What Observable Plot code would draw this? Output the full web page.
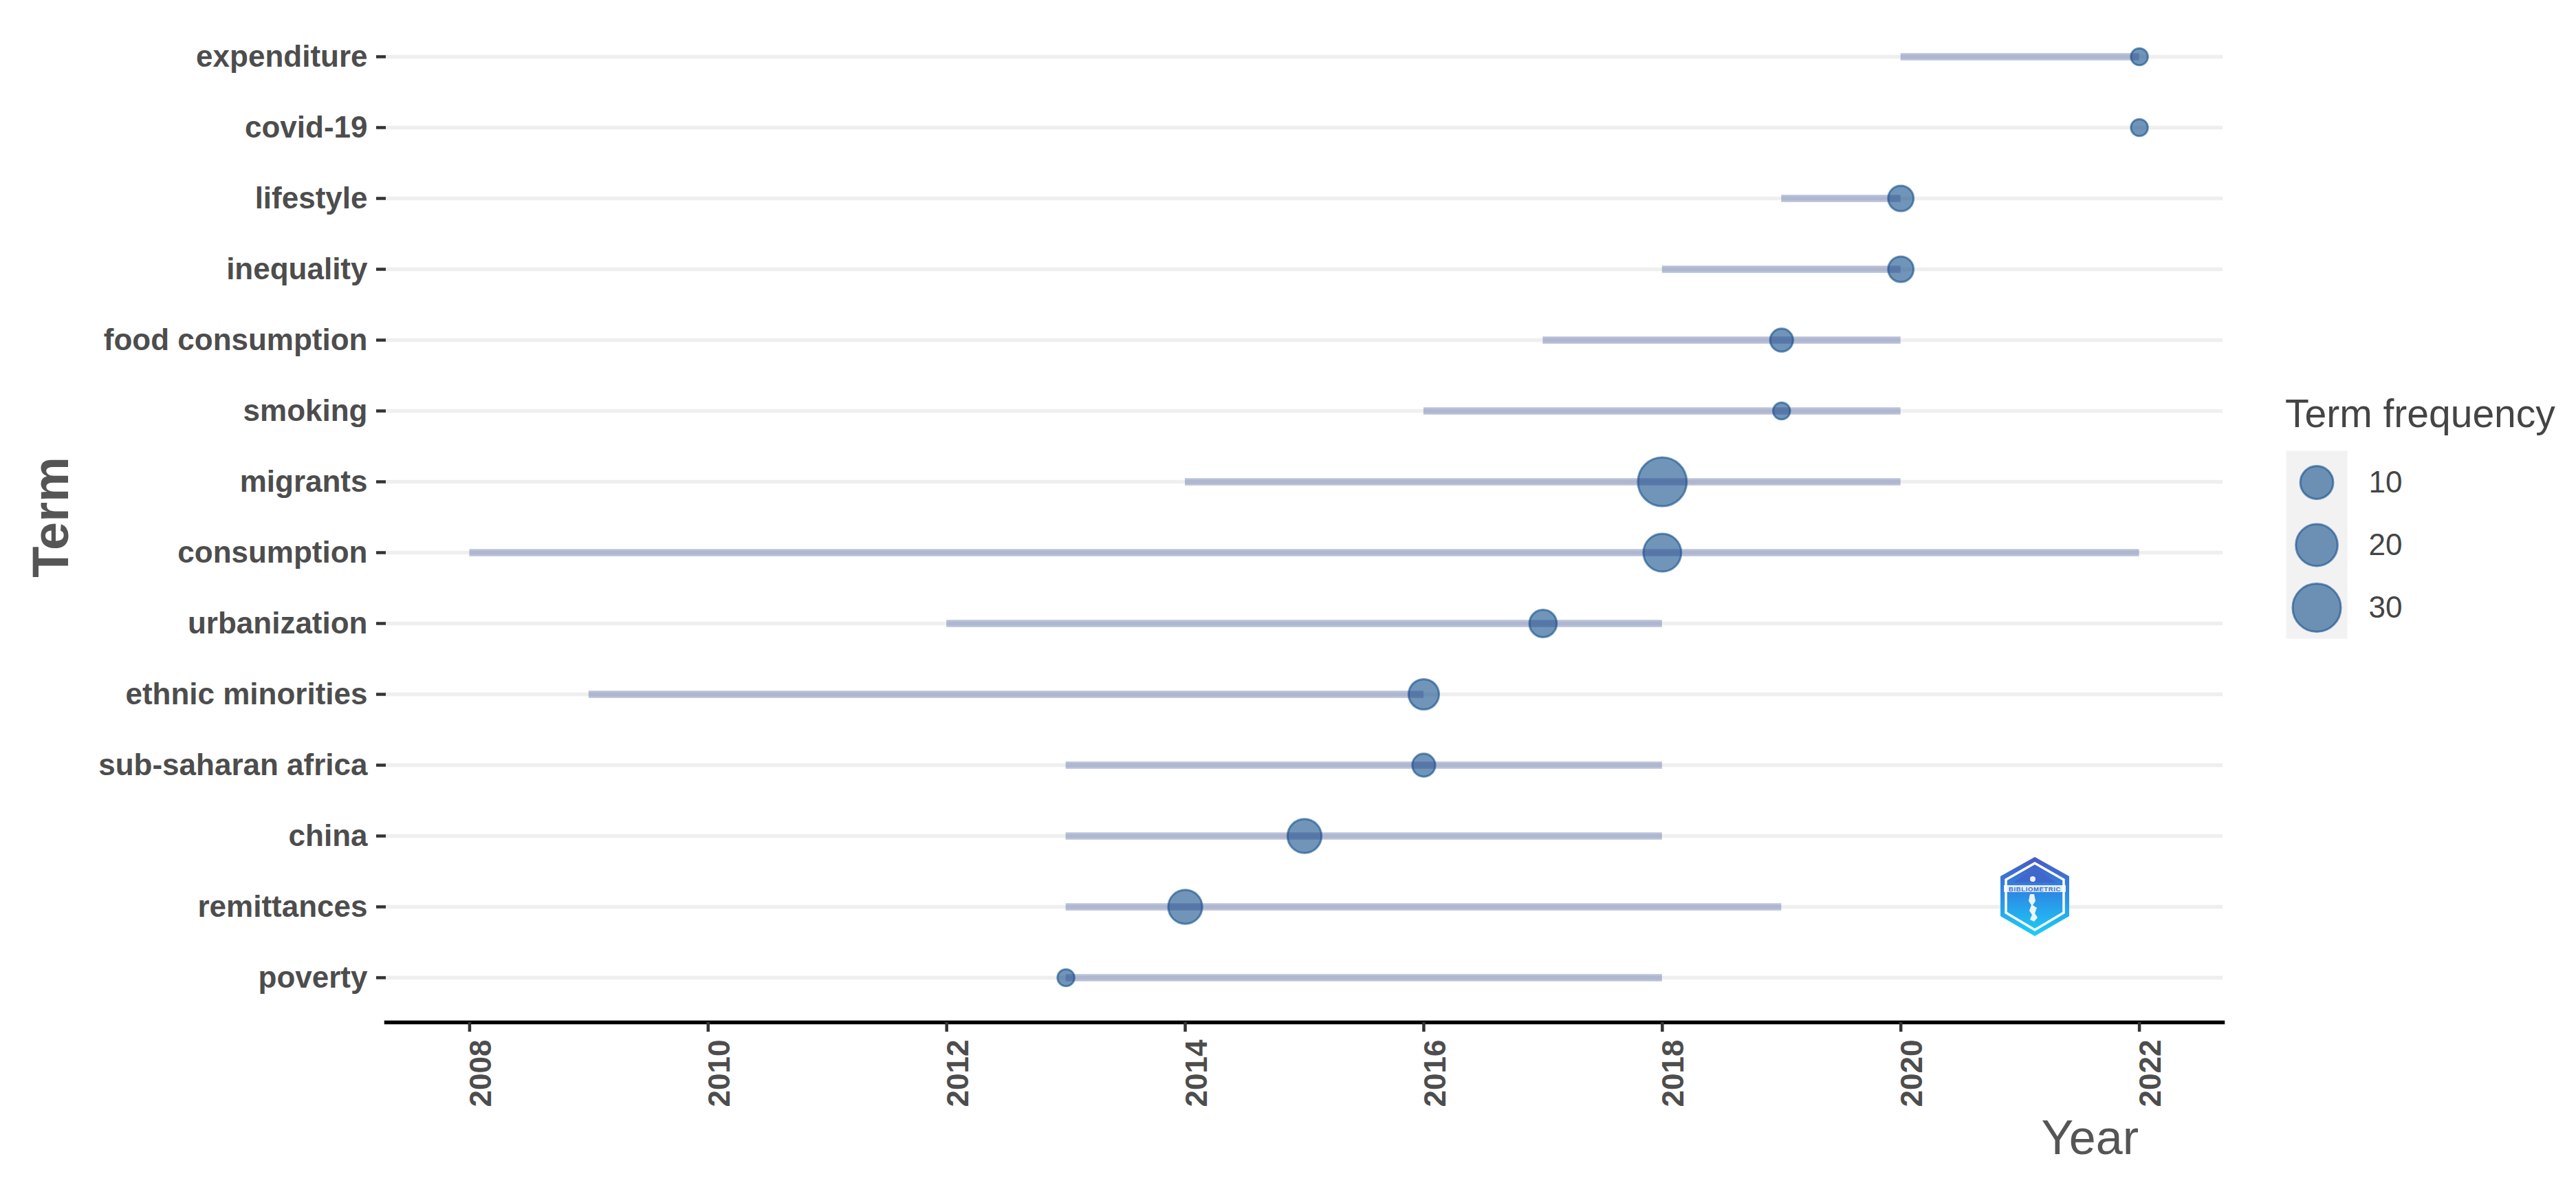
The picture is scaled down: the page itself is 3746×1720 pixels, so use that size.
<!DOCTYPE html>
<html>
<head>
<meta charset="utf-8">
<script src="https://cdn.jsdelivr.net/npm/d3@7"></script>
<script src="https://cdn.jsdelivr.net/npm/@observablehq/plot@0.6"></script>
<style>
  html, body { margin: 0; padding: 0; background: #ffffff; }
  body { width: 3746px; height: 1720px; position: relative; overflow: hidden;
         font-family: "Liberation Sans", Arial, Helvetica, sans-serif; }
  #chart { position: absolute; left: 0; top: 0; }
  #legend { position: absolute; left: 3324px; top: 655px; }
  #overlay { position: absolute; left: 0; top: 0; pointer-events: none; }
</style>
</head>
<body>
<div id="chart"></div>
<div id="legend"></div>
<svg id="overlay" width="3746" height="1720" xmlns="http://www.w3.org/2000/svg"
     font-family="Liberation Sans, Arial, Helvetica, sans-serif">
  <defs>
    <linearGradient id="logoGrad" x1="0" y1="0" x2="0" y2="1">
      <stop offset="0" stop-color="#4a58c4"/>
      <stop offset="0.5" stop-color="#2b8fe6"/>
      <stop offset="1" stop-color="#1cd0f8"/>
    </linearGradient>
  </defs>
  <!-- axis titles -->
  <text x="3110" y="1678" text-anchor="end" font-size="70" fill="#555555">Year</text>
  <text transform="translate(99,752) rotate(-90)" text-anchor="middle" font-size="74" font-weight="bold" fill="#555555">Term</text>
  <!-- legend title -->
  <text x="3323" y="621" font-size="57" fill="#444444">Term frequency</text>
  <!-- watermark logo -->
  <g>
    <polygon points="2959,1246 3009,1274 3009,1332 2959,1361 2909,1332 2909,1274" fill="url(#logoGrad)"/>
    <polygon points="2959,1255 3001,1279 3001,1327 2959,1352 2917,1327 2917,1279" fill="none" stroke="#ffffff" stroke-width="3.5"/>
    <polygon points="2959,1262 2990,1283 2928,1283" fill="#3f67cc"/>
    <rect x="2914" y="1287" width="90" height="10" fill="#ffffff" opacity="0.85"/>
    <text x="2959" y="1295.5" text-anchor="middle" font-size="9.5" font-weight="bold" fill="#3a6fd0" letter-spacing="0.6">BIBLIOMETRIC</text>
    <path d="M2952,1300 l6,0 l2,10 l-4,6 l6,4 l-3,8 l4,6 l-5,6 l-6,-3 l3,-7 l-4,-6 l3,-8 l-4,-6 z" fill="#ffffff" opacity="0.9"/>
    <circle cx="2956" cy="1278" r="4" fill="#ffffff" opacity="0.9"/>
  </g>
</svg>
<script>
// ---------- data ----------
const terms = [
  "expenditure", "covid-19", "lifestyle", "inequality", "food consumption",
  "smoking", "migrants", "consumption", "urbanization", "ethnic minorities",
  "sub-saharan africa", "china", "remittances", "poverty"
];
const yearQ1  = [2020, 2022, 2019, 2018, 2017, 2016, 2014, 2008, 2012, 2009, 2013, 2013, 2013, 2013];
const yearMed = [2022, 2022, 2020, 2020, 2019, 2019, 2018, 2018, 2017, 2016, 2016, 2015, 2014, 2013];
const yearQ3  = [2022, 2022, 2020, 2020, 2020, 2020, 2020, 2022, 2018, 2016, 2018, 2018, 2019, 2018];
const termFreq = [3, 3, 5, 5, 4, 3, 31, 15, 6, 8, 4, 11, 11, 3];
const yearTicks = [2008, 2010, 2012, 2014, 2016, 2018, 2020, 2022];
const legendValues = [10, 20, 30];

const data = terms.map((t, i) => ({
  term: t, q1: yearQ1[i], med: yearMed[i], q3: yearQ3[i], freq: termFreq[i]
}));

const FONT = "Liberation Sans, Arial, Helvetica, sans-serif";
const minFreq = d3.min(termFreq);
const maxFreq = d3.max(termFreq);

// size scale: radius grows with sqrt of (freq - min), like ggplot's area scale
const rOptions = () => ({
  type: "sqrt",
  transform: v => v - minFreq,
  domain: [0, maxFreq - minFreq],
  range: [12.3, 35.5]
});

const pointStyle = {
  fill: "#104E8B", fillOpacity: 0.6,
  stroke: "#104E8B", strokeOpacity: 0.6, strokeWidth: 3
};

const W = 3260;
const chart = Plot.plot({
  width: W,
  height: 1720,
  marginLeft: 561,
  marginRight: W - 3232,
  marginTop: 17,
  marginBottom: 234,
  style: { fontFamily: FONT, background: "transparent", overflow: "visible" },
  x: { domain: [2007.3, 2022.7] },
  y: { type: "point", domain: terms, padding: 0.6 },
  r: rOptions(),
  marks: [
    Plot.gridY({ stroke: "#EFEFEF", strokeOpacity: 1, strokeWidth: 5.3 }),
    Plot.dot(data, { x: "med", y: "term", r: "freq", ...pointStyle }),
    Plot.ruleY(data, {
      y: "term", x1: "q1", x2: "q3",
      stroke: "#27408B", strokeOpacity: 0.32, strokeWidth: 10.7
    }),
    Plot.frame({ anchor: "bottom", stroke: "#000000", strokeWidth: 5.5 }),
    Plot.axisY({
      tickSize: 14, tickPadding: 13, stroke: "#333333", strokeWidth: 4.5,
      fill: "#4D4D4D", fontSize: 44, fontWeight: "bold", label: null
    }),
    // x tick marks
    Plot.axisX(yearTicks, {
      tickSize: 14, tickFormat: () => "", stroke: "#333333", strokeWidth: 4.5, label: null
    }),
    // x tick labels, rotated
    Plot.axisX(yearTicks, {
      tickSize: 0, tickPadding: 25, tickRotate: -90, dx: 17,
      tickFormat: d => String(d), fill: "#4D4D4D",
      fontSize: 44, fontWeight: "bold", label: null
    })
  ]
});
document.getElementById("chart").appendChild(chart);

// ---------- size legend ----------
const legend = Plot.plot({
  width: 420,
  height: 273,
  marginLeft: 0,
  marginRight: 331,
  marginTop: 0,
  marginBottom: 0,
  style: { fontFamily: FONT, background: "transparent", overflow: "visible" },
  y: { type: "point", domain: legendValues, padding: 0.5, axis: null },
  r: rOptions(),
  marks: [
    Plot.frame({ fill: "#F2F2F2", stroke: "none" }),
    Plot.dot(legendValues, { y: d => d, r: d => d, ...pointStyle }),
    Plot.text(legendValues, {
      y: d => d, text: d => String(d), frameAnchor: "right", textAnchor: "start",
      dx: 31, fontSize: 44, fill: "#444444"
    })
  ]
});
document.getElementById("legend").appendChild(legend);
</script>
</body>
</html>
